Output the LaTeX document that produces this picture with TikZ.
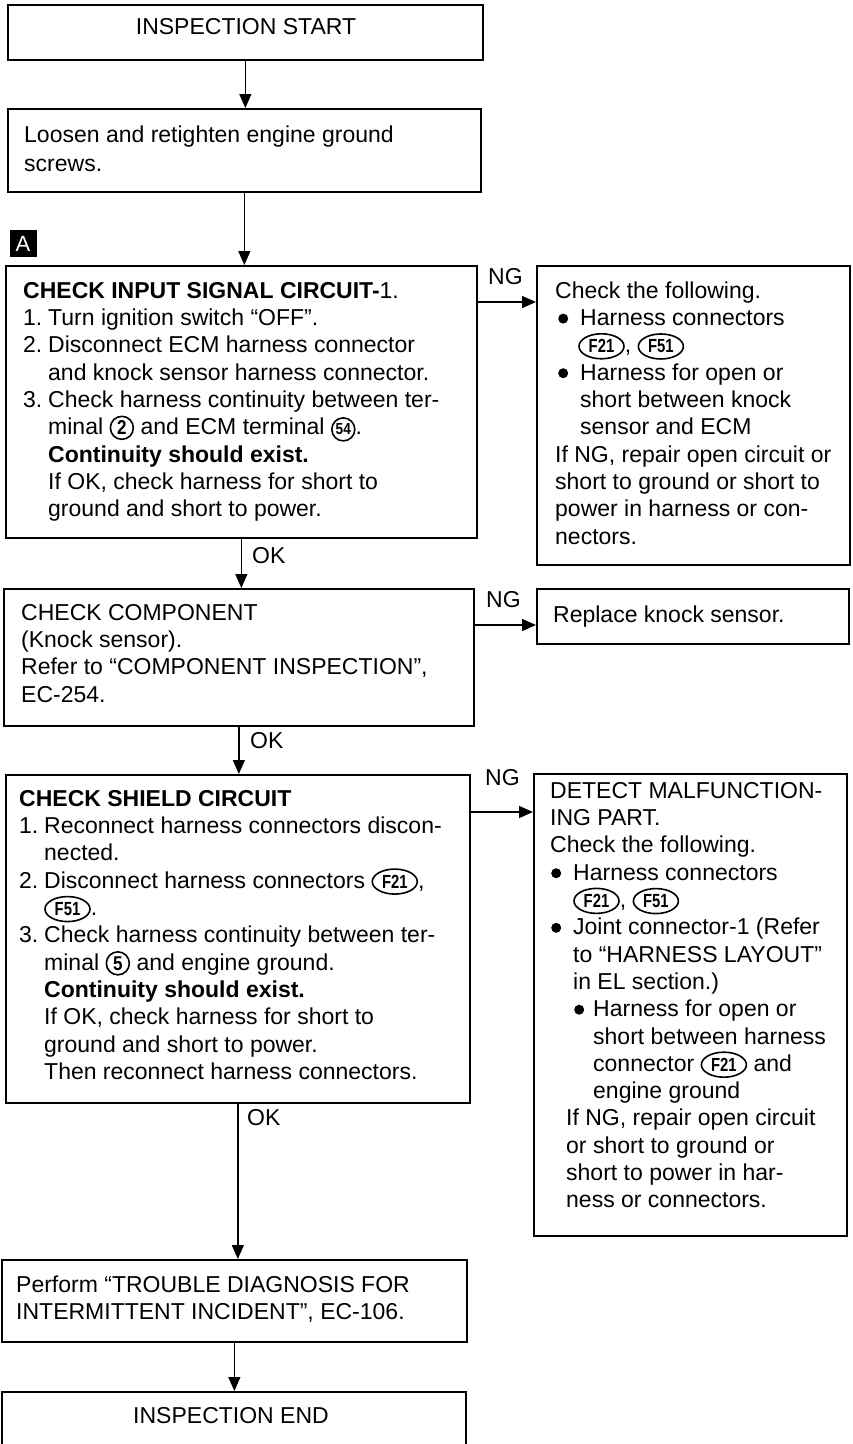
\documentclass[tikz,border=0pt]{standalone}
\usepackage{fontspec}
\setmainfont{Liberation Sans}
\usetikzlibrary{arrows.meta,shapes.geometric}
\newcommand\tf{\fontsize{23}{27.3}\selectfont}
\newcommand\bul{\raisebox{2pt}{\tikz[x=1pt,y=1pt]\fill[black] (0,0) circle (5pt);}}
\newcommand\cnum[2][20]{\tikz[x=1pt,y=1pt,baseline=(cnx.base)]\node[draw,circle,line width=1.6pt,inner sep=0pt,minimum size=23pt,font=\bfseries\fontsize{#1}{#1}\selectfont](cnx){\scalebox{0.85}[1]{#2}};}
\newcommand\conn[1]{\tikz[x=1pt,y=1pt,baseline=(ccx.base)]\node[draw,ellipse,line width=1.6pt,inner sep=0pt,minimum width=45pt,minimum height=25pt,font=\bfseries\fontsize{19}{19}\selectfont](ccx){\scalebox{0.78}[1]{#1}};}
\newcommand\nm[1]{\makebox[25pt][l]{#1}}
\newcommand\ind{\hspace*{25pt}}
\begin{document}
\begin{tikzpicture}[x=1pt,y=-1pt,
  box/.style={draw, line width=1.7pt, rectangle, anchor=north west, inner sep=0pt},
  txt/.style={anchor=north west, inner sep=0pt, align=left, font=\tf},
  lbl/.style={anchor=west, inner sep=0pt, font=\tf},
  arr/.style={line width=1.3pt, -{Triangle[length=14pt,width=12pt]}}]
\useasboundingbox (0,0) rectangle (853,1444);
\fill[white] (0,0) rectangle (853,1444);

% boxes
\node[box, minimum width=475pt, minimum height=55pt] (start) at (7,4) {};
\node[box, minimum width=473pt, minimum height=83pt] (loosen) at (7,108) {};
\node[box, minimum width=471pt, minimum height=272pt] (check) at (5,265) {};
\node[box, minimum width=313pt, minimum height=299pt] (r1) at (536,265) {};
\node[box, minimum width=470pt, minimum height=137pt] (comp) at (3,588) {};
\node[box, minimum width=312pt, minimum height=55pt] (repl) at (536,588) {};
\node[box, minimum width=464pt, minimum height=328pt] (shield) at (5,774) {};
\node[box, minimum width=313pt, minimum height=462pt] (detect) at (533,773) {};
\node[box, minimum width=465pt, minimum height=82pt] (perform) at (1,1259) {};
\node[box, minimum width=464pt, minimum height=90pt] (endb) at (1,1391) {};

% label A
\node[fill=black, text=white, minimum size=27pt, inner sep=0pt, font=\fontsize{22}{22}\selectfont] (lblA) at (23,243.5) {A};

% texts
\node[inner sep=0pt, font=\tf] (startT) at (246,27) {INSPECTION START};
\node[txt] (loosenT) at (24,123) {\strut Loosen and retighten engine ground\\[1.5pt]screws.};
\node[txt] (checkT) at (23,279) {\strut\textbf{CHECK INPUT SIGNAL CIRCUIT-}1.\\
\nm{1.}Turn ignition switch “OFF”.\\
\nm{2.}Disconnect ECM harness connector\\
\ind and knock sensor harness connector.\\
\nm{3.}Check harness continuity between ter-\\
\ind minal \cnum{2} and ECM terminal \cnum[16]{54}.\\
\ind\textbf{Continuity should exist.}\\
\ind If OK, check harness for short to\\
\ind ground and short to power.};
\node[txt] (r1T) at (555,279) {\strut Check the following.\\
\makebox[25pt][l]{\hspace{3pt}\bul}Harness connectors\\
\hspace*{23pt}\conn{F21}, \conn{F51}\\
\makebox[25pt][l]{\hspace{3pt}\bul}Harness for open or\\
\hspace*{25pt}short between knock\\
\hspace*{25pt}sensor and ECM\\
If NG, repair open circuit or\\
short to ground or short to\\
power in harness or con-\\
nectors.};
\node[txt] (compT) at (21,601) {\strut CHECK COMPONENT\\
(Knock sensor).\\
Refer to “COMPONENT INSPECTION”,\\
EC-254.};
\node[txt] (replT) at (553,603) {\strut Replace knock sensor.};
\node[txt] (shieldT) at (19,787) {\strut\textbf{CHECK SHIELD CIRCUIT}\\
\nm{1.}Reconnect harness connectors discon-\\
\ind nected.\\
\nm{2.}Disconnect harness connectors \conn{F21},\\
\ind\conn{F51}.\\
\nm{3.}Check harness continuity between ter-\\
\ind minal \cnum{5} and engine ground.\\
\ind\textbf{Continuity should exist.}\\
\ind If OK, check harness for short to\\
\ind ground and short to power.\\
\ind Then reconnect harness connectors.};
\node[txt] (detectT) at (550,779) {\strut DETECT MALFUNCTION-\\
ING PART.\\
Check the following.\\
\makebox[23pt][l]{\hspace{1pt}\bul}Harness connectors\\
\hspace*{23pt}\conn{F21}, \conn{F51}\\
\makebox[23pt][l]{\hspace{1pt}\bul}Joint connector-1 (Refer\\
\hspace*{23pt}to “HARNESS LAYOUT”\\
\hspace*{23pt}in EL section.)\\
\hspace*{23pt}\makebox[20pt][l]{\hspace{1pt}\bul}Harness for open or\\
\hspace*{43pt}short between harness\\
\hspace*{43pt}connector \conn{F21} and\\
\hspace*{43pt}engine ground\\
\hspace*{16pt}If NG, repair open circuit\\
\hspace*{16pt}or short to ground or\\
\hspace*{16pt}short to power in har-\\
\hspace*{16pt}ness or connectors.};
\node[txt] (performT) at (16,1273) {\strut Perform “TROUBLE DIAGNOSIS FOR\\
INTERMITTENT INCIDENT”, EC-106.};
\node[inner sep=0pt, font=\tf] (endT) at (231,1416) {INSPECTION END};

% connectors
\draw[arr] (start.south) -- (start.south |- loosen.north);
\draw[arr] (loosen.south) -- (loosen.south |- check.north);
\draw[arr] (check.south) -- (check.south |- comp.north);
\draw[arr] (comp.south) -- (comp.south |- shield.north);
\draw[arr] (shield.south) -- (shield.south |- perform.north);
\draw[arr] (perform.south) -- (perform.south |- endb.north);

\coordinate (y1) at (0,302);
\coordinate (y2) at (0,625);
\coordinate (y3) at (0,812);
\draw[arr] (check.east |- y1) -- (r1.west |- y1);
\draw[arr] (comp.east |- y2) -- (repl.west |- y2);
\draw[arr] (shield.east |- y3) -- (detect.west |- y3);

% branch labels
\node[lbl] (ng1) at (488,277) {NG};
\node[lbl] (ng2) at (486,600) {NG};
\node[lbl] (ng3) at (485,778) {NG};
\node[lbl] (ok1) at (252,556) {OK};
\node[lbl] (ok2) at (250,741) {OK};
\node[lbl] (ok3) at (247,1118) {OK};
\end{tikzpicture}
\end{document}
